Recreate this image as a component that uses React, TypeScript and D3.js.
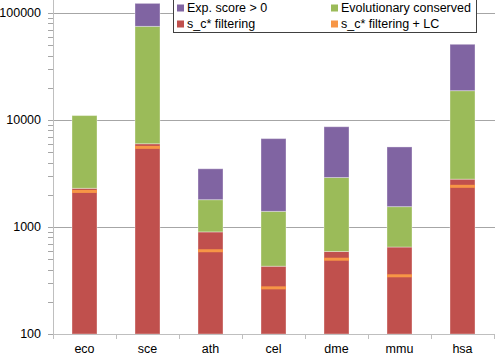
import React, { useEffect, useRef } from 'react';
import * as d3 from 'd3';

// species on the x axis
const categories = ['eco', 'sce', 'ath', 'cel', 'dme', 'mmu', 'hsa'];
// cumulative counts per level (log axis)
const filtering = [2300, 6000, 900, 430, 590, 650, 2800];
const filteringLC = [2150, 5550, 600, 270, 500, 350, 2400];
const conserved = [11000, 75000, 1800, 1400, 2900, 1550, 18800];
const expScore = [11000, 123000, 3500, 6700, 8650, 5600, 51000];

const yTicks = [100, 1000, 10000, 100000];
const legendLabels = ['Exp. score > 0', 'Evolutionary conserved', 's_c* filtering', 's_c* filtering + LC'];

const RED = '#C0504D';
const GREEN = '#9BBB59';
const PURPLE = '#8064A2';
const ORANGE = '#F79646';

const W = 495;
const H = 357;
const FONT = '"Liberation Sans", Arial, sans-serif';

const App = () => {
    const svgRef = useRef(null);

    useEffect(() => {
        const svg = d3.select(svgRef.current);
        svg.selectAll('*').remove();

        const left = 53, right = 494, bottom = 334;
        const x = d3.scaleBand().domain(categories).range([left, right]).padding(0);
        const y = d3.scaleLog().domain([100, 100000]).range([bottom, 13]);
        const barW = 25;

        // gridlines
        svg.append('g').selectAll('line')
            .data(yTicks.slice(1))
            .enter().append('line')
            .attr('x1', left).attr('x2', W)
            .attr('y1', d => y(d)).attr('y2', d => y(d))
            .attr('stroke', '#A6A6A6').attr('stroke-width', 1)
            .attr('shape-rendering', 'crispEdges');

        // stacked bars
        const segs = [];
        categories.forEach((c, i) => {
            segs.push({ c, y0: 100, y1: filtering[i], color: RED });
            segs.push({ c, y0: filtering[i], y1: conserved[i], color: GREEN });
            segs.push({ c, y0: conserved[i], y1: expScore[i], color: PURPLE });
        });
        const bx = c => x(c) + x.bandwidth() / 2 - barW / 2;

        svg.append('g').selectAll('rect')
            .data(segs.filter(s => s.y1 > s.y0))
            .enter().append('rect')
            .attr('x', d => bx(d.c))
            .attr('width', barW)
            .attr('y', d => y(d.y1))
            .attr('height', d => y(d.y0) - y(d.y1))
            .attr('fill', d => d.color)
            .attr('stroke', 'rgba(255,255,255,0.35)')
            .attr('stroke-width', 1);

        // LC marker lines
        svg.append('g').selectAll('rect')
            .data(categories)
            .enter().append('rect')
            .attr('x', c => bx(c))
            .attr('width', barW)
            .attr('y', (c, i) => y(filteringLC[i]) - 1.5)
            .attr('height', 3)
            .attr('fill', ORANGE);

        // y axis
        const yAxis = svg.append('g');
        yAxis.append('line')
            .attr('x1', left + 0.5).attr('x2', left + 0.5)
            .attr('y1', 0).attr('y2', bottom)
            .attr('stroke', '#BFBFBF');
        const minor = [];
        [100, 1000, 10000, 100000].forEach(d => {
            for (let k = 1; k <= 9; k++) {
                const v = d * k;
                if (v <= 130000) minor.push(v);
            }
        });
        yAxis.selectAll('line.tick')
            .data(minor)
            .enter().append('line')
            .attr('class', 'tick')
            .attr('x1', left - 5).attr('x2', left)
            .attr('y1', d => Math.round(y(d)) + 0.5).attr('y2', d => Math.round(y(d)) + 0.5)
            .attr('stroke', '#A6A6A6');
        yAxis.selectAll('text')
            .data(yTicks)
            .enter().append('text')
            .attr('x', 41)
            .attr('y', d => y(d))
            .attr('dy', '0.35em')
            .attr('text-anchor', 'end')
            .attr('font-family', FONT)
            .attr('font-size', '12.5px')
            .attr('fill', '#000')
            .text(d => d);

        // x axis
        const xAxis = svg.append('g');
        xAxis.append('line')
            .attr('x1', left).attr('x2', W)
            .attr('y1', bottom + 0.5).attr('y2', bottom + 0.5)
            .attr('stroke', '#BFBFBF');
        xAxis.selectAll('line.tick')
            .data(categories.map(c => x(c)).concat([right]))
            .enter().append('line')
            .attr('class', 'tick')
            .attr('x1', d => Math.round(d) + 0.5).attr('x2', d => Math.round(d) + 0.5)
            .attr('y1', bottom).attr('y2', bottom + 5)
            .attr('stroke', '#BFBFBF');
        xAxis.selectAll('text')
            .data(categories)
            .enter().append('text')
            .attr('x', c => x(c) + x.bandwidth() / 2)
            .attr('y', 349)
            .attr('dy', '0.35em')
            .attr('text-anchor', 'middle')
            .attr('font-family', FONT)
            .attr('font-size', '12.5px')
            .attr('fill', '#000')
            .text(c => c);

        // legend
        const lg = svg.append('g');
        lg.append('rect')
            .attr('x', 173.5).attr('y', -0.5)
            .attr('width', 303).attr('height', 33)
            .attr('fill', '#fff')
            .attr('stroke', '#404040');
        const legendColors = [PURPLE, GREEN, RED, ORANGE];
        const lx = [177, 331];
        const ly = [8, 24];
        legendLabels.forEach((lab, i) => {
            const col = i % 2, row = Math.floor(i / 2);
            lg.append('rect')
                .attr('x', lx[col]).attr('y', ly[row] - 3.5)
                .attr('width', 7).attr('height', 7)
                .attr('fill', legendColors[i]);
            lg.append('text')
                .attr('x', lx[col] + 10)
                .attr('y', ly[row])
                .attr('dy', '0.35em')
                .attr('font-family', FONT)
                .attr('font-size', '12.5px')
                .attr('fill', '#000')
                .text(lab);
        });
    }, []);

    return (
        <svg
            ref={svgRef}
            width={W}
            height={H}
            style={{ position: 'absolute', left: 0, top: 0, background: '#fff' }}
        />
    );
};

export default App;
